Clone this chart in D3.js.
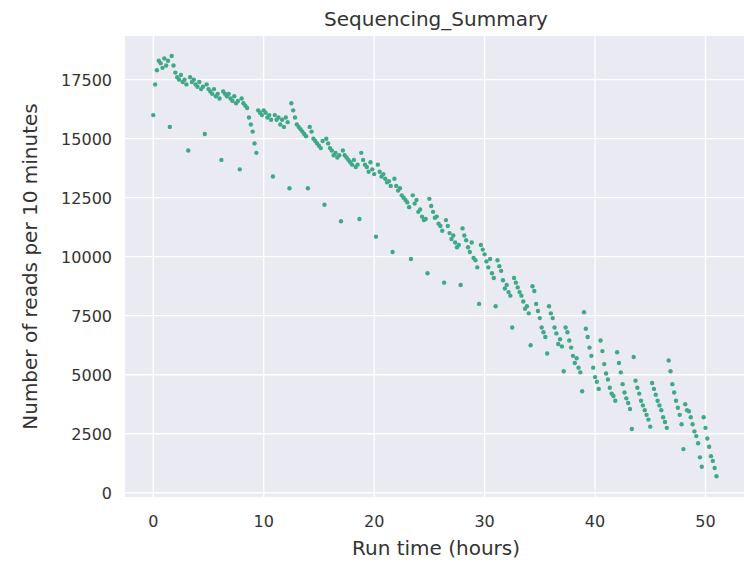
<!DOCTYPE html>
<html>
<head>
<meta charset="UTF-8">
<script src="https://cdn.jsdelivr.net/npm/d3@7"></script>
<style>
  body { margin: 0; background: #fff; }
  svg { display: block; font-family: "DejaVu Sans", sans-serif; }
  .grid line { stroke: #fff; stroke-width: 1.3px; }
  .tick-label { fill: #333; font-size: 16px; }
  .axis-title { fill: #333; font-size: 20px; }
</style>
</head>
<body>
<script>
// reads counted in 10 minute bins, bin i starts at i*10 minutes
// (every ~9th bin is a mux scan and sits well below the rest)
var readsPerBin = [
  16000, 17300, 17900, 18300, 18200, 18000, 18400, 18100, 18300,
  15500, 18500, 18100, 17800, 17600, 17500, 17700, 17400, 17500, 17300,
  14500, 17600, 17400, 17500, 17300, 17200, 17400, 17100, 17200,
  15200, 17300, 17100, 17000, 16900, 17100, 16800, 16900, 16700,
  14100, 17000, 16900, 16800, 16900, 16700, 16600, 16800, 16500, 16600,
  13700, 16700, 16500, 16400, 16300, 15900, 15600, 15300, 14800,
  14400, 16200, 16100, 16000, 16200, 16100, 15900, 16000, 15800,
  13400, 16000, 15800, 15900, 15600, 15800, 15500, 15900, 15700,
  12900, 16500, 16200, 15900, 15600, 15500, 15400, 15300, 15200, 15100,
  12900, 15500, 15300, 15000, 14900, 14800, 14700, 14600, 14900,
  12200, 15000, 14800, 14600, 14500, 14300, 14400, 14200, 14300,
  11500, 14500, 14300, 14200, 14100, 14000, 13900, 14100, 13800, 13900,
  11600, 14400, 14100, 13900, 13800, 13600, 14000, 13700, 13500,
  10850, 13900, 13600, 13400, 13500, 13300, 13150, 13200, 13000,
  10200, 13300, 13000, 12800, 12900, 12600, 12500, 12400, 12300, 12100,
  9900, 12600, 12250, 12400, 11900, 12000, 11700, 11550, 11600,
  9300, 12450, 12150, 11900, 11650, 11700, 11400, 11300, 11100,
  8900, 11550, 11300, 11000, 10750, 10900, 10600, 10400, 10500,
  8800, 11200, 10900, 10700, 10400, 10200, 10600, 9950, 9850, 9550,
  8000, 10500, 10300, 10100, 9800, 9550, 9900, 9300, 9100,
  7900, 9850, 9600, 9400, 9000, 8650, 8800, 8500, 8350,
  7000, 9100, 8900, 8700, 8500, 8350, 8100, 7800, 7900, 7600,
  6250, 8750, 8550, 8000, 7700, 7400, 7000, 6800, 6600,
  5900, 7900, 7600, 7400, 7000, 6750, 6300, 6500, 6200,
  5150, 7000, 6800, 6450, 6150, 5800, 5500, 5700, 5300, 5100,
  4300, 7650, 6950, 6600, 6150, 5800, 5300, 4900, 4700,
  4400, 6450, 6000, 5450, 5050, 4800, 4450, 4200, 4100,
  3900, 5950, 5500, 5100, 4600, 4250, 4000, 3800, 3550,
  2700, 5750, 4750, 4450, 4200, 3900, 3700, 3500, 3300, 3100,
  2800, 4650, 4400, 4150, 3900, 3700, 3500, 3200, 3000,
  2750, 5600, 5150, 4600, 4250, 3900, 3600, 3300, 2900,
  1850, 3750, 3500, 3450, 3200, 2900, 2600, 2400, 2100, 1500,
  1100, 3200, 2750, 2300, 1950, 1550, 1350, 1050, 700
];
var binMinutes = 10;
var xTicks = [0, 10, 20, 30, 40, 50];
var yTicks = [0, 2500, 5000, 7500, 10000, 12500, 15000, 17500];

var W = 744, H = 563;
var mLeft = 125, mRight = 747, mTop = 36, mBottom = 497;

var points = readsPerBin.map(function(v, i) {
  return { hours: i * binMinutes / 60, reads: v };
});

var x = d3.scaleLinear().domain([-2.56, 53.76]).range([mLeft, mRight]);
var y = d3.scaleLinear().domain([-180, 19350]).range([mBottom, mTop]);

var svg = d3.select("body").append("svg").attr("width", W).attr("height", H);

svg.append("rect")
  .attr("x", mLeft).attr("y", mTop)
  .attr("width", mRight - mLeft).attr("height", mBottom - mTop)
  .attr("fill", "#eaeaf2");

var grid = svg.append("g").attr("class", "grid");
grid.selectAll(".gx").data(xTicks).enter().append("line")
  .attr("x1", function(d) { return x(d); }).attr("x2", function(d) { return x(d); })
  .attr("y1", mTop).attr("y2", mBottom);
grid.selectAll(".gy").data(yTicks).enter().append("line")
  .attr("y1", function(d) { return y(d); }).attr("y2", function(d) { return y(d); })
  .attr("x1", mLeft).attr("x2", mRight);

svg.append("g").selectAll("circle").data(points).enter().append("circle")
  .attr("cx", function(d) { return x(d.hours); })
  .attr("cy", function(d) { return y(d.reads); })
  .attr("r", 2.2)
  .attr("fill", "#3fa987");

svg.append("g").selectAll("text").data(xTicks).enter().append("text")
  .attr("class", "tick-label")
  .attr("x", function(d) { return x(d); })
  .attr("y", mBottom + 30)
  .attr("text-anchor", "middle")
  .text(function(d) { return d; });

svg.append("g").selectAll("text").data(yTicks).enter().append("text")
  .attr("class", "tick-label")
  .attr("x", mLeft - 13)
  .attr("y", function(d) { return y(d) + 6; })
  .attr("text-anchor", "end")
  .text(function(d) { return d; });

svg.append("text")
  .attr("class", "axis-title")
  .attr("x", (mLeft + mRight) / 2).attr("y", 555)
  .attr("text-anchor", "middle")
  .text("Run time (hours)");

svg.append("text")
  .attr("class", "axis-title")
  .attr("transform", "translate(37," + ((mTop + mBottom) / 2) + ") rotate(-90)")
  .attr("text-anchor", "middle")
  .text("Number of reads per 10 minutes");

svg.append("text")
  .attr("class", "axis-title")
  .attr("x", (mLeft + mRight) / 2).attr("y", 26)
  .attr("text-anchor", "middle")
  .text("Sequencing_Summary");
</script>
</body>
</html>
